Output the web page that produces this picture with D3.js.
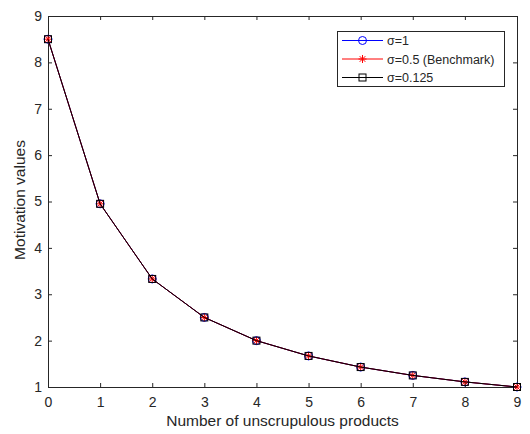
<!DOCTYPE html>
<html>
<head>
<meta charset="utf-8">
<script src="https://cdn.jsdelivr.net/npm/d3@7"></script>
<style>
  body { margin: 0; background: #fff; }
  text { font-family: "Liberation Sans", Arial, sans-serif; fill: #262626; }
</style>
</head>
<body>
<div id="chart"></div>
<script>
var chartWidth = 530;
var chartHeight = 434;

// Data
var products = [0, 1, 2, 3, 4, 5, 6, 7, 8, 9];
var sigma1 = [8.5, 4.95, 3.33, 2.5, 2.0, 1.67, 1.43, 1.25, 1.11, 1.0];
var sigma05 = [8.5, 4.95, 3.33, 2.5, 2.0, 1.67, 1.43, 1.25, 1.11, 1.0];
var sigma0125 = [8.5, 4.95, 3.33, 2.5, 2.0, 1.67, 1.43, 1.25, 1.11, 1.0];
var seriesNames = ['\u03c3=1', '\u03c3=0.5 (Benchmark)', '\u03c3=0.125'];
var xTicks = [0, 1, 2, 3, 4, 5, 6, 7, 8, 9];
var yTicks = [1, 2, 3, 4, 5, 6, 7, 8, 9];

var series = [
  {name: seriesNames[0], values: sigma1, color: '#0000ff', marker: 'circle'},
  {name: seriesNames[1], values: sigma05, color: '#ff0000', marker: 'star'},
  {name: seriesNames[2], values: sigma0125, color: '#000000', marker: 'square'}
];

// plot box
var boxLeft = 48, boxRight = 517, boxTop = 16, boxBottom = 387;

var svg = d3.select('#chart')
    .append('svg')
    .attr('width', chartWidth)
    .attr('height', chartHeight);

var scaleX = d3.scaleLinear().domain([0, 9]).range([boxLeft, boxRight]);
var scaleY = d3.scaleLinear().domain([1, 9]).range([boxBottom, boxTop]);

// Axes (MATLAB style, ticks inward, box on)
var axisColor = '#262626';
var tickLen = 4;

svg.append('rect')
    .attr('x', boxLeft + 0.5).attr('y', boxTop + 0.5)
    .attr('width', boxRight - boxLeft).attr('height', boxBottom - boxTop)
    .attr('fill', 'none').attr('stroke', axisColor).attr('stroke-width', 1);

var xAxis = svg.append('g')
    .attr('transform', 'translate(0,' + boxBottom + ')')
    .call(d3.axisBottom(scaleX).tickValues(xTicks).tickSizeInner(-tickLen).tickSizeOuter(0).tickPadding(10));
var xAxisTop = svg.append('g')
    .attr('transform', 'translate(0,' + boxTop + ')')
    .call(d3.axisTop(scaleX).tickValues(xTicks).tickSizeInner(-tickLen).tickSizeOuter(0).tickFormat(''));
var yAxis = svg.append('g')
    .attr('transform', 'translate(' + boxLeft + ',0)')
    .call(d3.axisLeft(scaleY).tickValues(yTicks).tickSizeInner(-tickLen).tickSizeOuter(0).tickPadding(6));
var yAxisRight = svg.append('g')
    .attr('transform', 'translate(' + boxRight + ',0)')
    .call(d3.axisRight(scaleY).tickValues(yTicks).tickSizeInner(-tickLen).tickSizeOuter(0).tickFormat(''));

[xAxis, xAxisTop, yAxis, yAxisRight].forEach(function(a) {
  a.select('.domain').remove();
  a.selectAll('line').attr('stroke', axisColor);
  a.selectAll('text')
      .attr('fill', axisColor)
      .style('font-family', '"Liberation Sans", Arial, sans-serif')
      .style('font-size', '14px');
});

// Axis labels
svg.append('text')
    .attr('x', (boxLeft + boxRight) / 2)
    .attr('y', 426)
    .attr('text-anchor', 'middle')
    .style('font-size', '15.5px')
    .text('Number of unscrupulous products');

svg.append('text')
    .attr('transform', 'translate(25,' + 200 + ') rotate(-90)')
    .attr('text-anchor', 'middle')
    .style('font-size', '15.5px')
    .text('Motivation values');

// Lines and markers
var line = d3.line()
    .x(function(d, i) { return scaleX(products[i]); })
    .y(function(d) { return scaleY(d); });

function drawMarker(g, type, color, x, y) {
  if (type === 'circle') {
    g.append('circle').attr('cx', x).attr('cy', y).attr('r', 4)
        .attr('fill', 'none').attr('stroke', color).attr('stroke-width', 1);
  } else if (type === 'square') {
    g.append('rect').attr('x', x - 3.5).attr('y', y - 3.5)
        .attr('width', 7).attr('height', 7)
        .attr('fill', 'none').attr('stroke', color).attr('stroke-width', 1);
  } else {
    var r = 4;
    var path = 'M' + (x - r) + ',' + y + 'L' + (x + r) + ',' + y +
        'M' + x + ',' + (y - r) + 'L' + x + ',' + (y + r) +
        'M' + (x - r * 0.7) + ',' + (y - r * 0.7) + 'L' + (x + r * 0.7) + ',' + (y + r * 0.7) +
        'M' + (x - r * 0.7) + ',' + (y + r * 0.7) + 'L' + (x + r * 0.7) + ',' + (y - r * 0.7);
    g.append('path').attr('d', path).attr('stroke', color).attr('stroke-width', 1).attr('fill', 'none');
  }
}

series.forEach(function(s) {
  var g = svg.append('g');
  g.append('path')
      .datum(s.values)
      .attr('d', line)
      .attr('fill', 'none')
      .attr('stroke', s.color)
      .attr('stroke-width', 1);
  s.values.forEach(function(v, i) {
    drawMarker(g, s.marker, s.color, scaleX(products[i]), scaleY(v));
  });
});

// Legend
var legend = svg.append('g');
legend.append('rect')
    .attr('x', 337.5).attr('y', 31.5)
    .attr('width', 167).attr('height', 55)
    .attr('fill', '#fff').attr('stroke', axisColor).attr('stroke-width', 1);

series.forEach(function(s, i) {
  var y = 40.5 + i * 18.5;
  legend.append('line')
      .attr('x1', 342).attr('x2', 383)
      .attr('y1', y).attr('y2', y)
      .attr('stroke', s.color).attr('stroke-width', 1);
  drawMarker(legend, s.marker, s.color, 362.5, y);
  legend.append('text')
      .attr('x', 387).attr('y', y + 4.5)
      .style('font-size', '12.5px')
      .text(s.name);
});
</script>
</body>
</html>
